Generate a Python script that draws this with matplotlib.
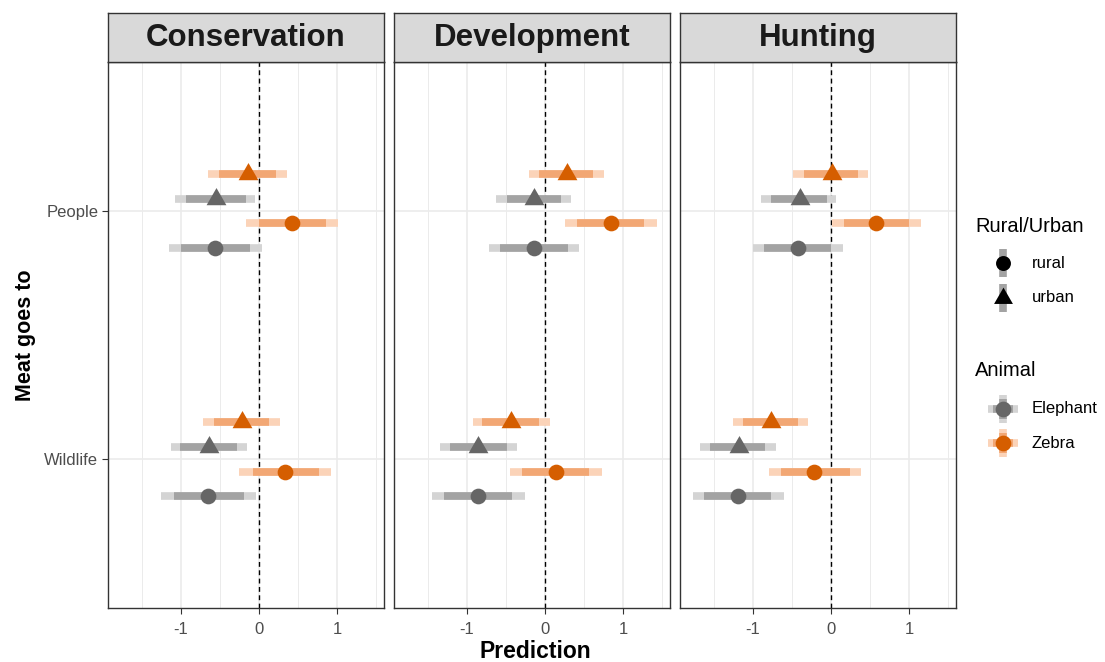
import matplotlib
matplotlib.use("Agg")
import matplotlib.pyplot as plt
from matplotlib.path import Path
import numpy as np

plt.rcParams['font.family'] = ['Liberation Sans', 'DejaVu Sans']

# ---------------- data ----------------
facets = ["Conservation", "Development", "Hunting"]
categories = ["Wildlife", "People"]          # y positions 1, 2
x_ticks = [-1, 0, 1]
x_tick_labels = ["-1", "0", "1"]

# series order inside each category (top to bottom)
series_animal = ["Zebra", "Elephant", "Zebra", "Elephant"]
series_area = ["urban", "urban", "rural", "rural"]
series_offset = [0.15, 0.05, -0.05, -0.15]

# values per facet: [People x4, Wildlife x4], series order as above
cons_point = [-0.14, -0.55, 0.42, -0.56, -0.22, -0.64, 0.34, -0.65]
cons_in_lo = [-0.51, -0.93, 0.00, -0.99, -0.58, -1.01, -0.08, -1.09]
cons_in_hi = [0.22, -0.17, 0.86, -0.11, 0.13, -0.28, 0.77, -0.19]
cons_out_lo = [-0.65, -1.07, -0.17, -1.15, -0.72, -1.13, -0.25, -1.25]
cons_out_hi = [0.36, -0.05, 1.01, 0.04, 0.27, -0.15, 0.92, -0.04]

dev_point = [0.28, -0.14, 0.84, -0.14, -0.43, -0.85, 0.14, -0.85]
dev_in_lo = [-0.08, -0.49, 0.41, -0.58, -0.80, -1.21, -0.29, -1.29]
dev_in_hi = [0.62, 0.21, 1.27, 0.29, -0.08, -0.48, 0.57, -0.42]
dev_out_lo = [-0.20, -0.63, 0.26, -0.72, -0.92, -1.34, -0.45, -1.44]
dev_out_hi = [0.75, 0.33, 1.44, 0.44, 0.06, -0.36, 0.73, -0.25]

hunt_point = [0.01, -0.40, 0.58, -0.42, -0.76, -1.18, -0.21, -1.19]
hunt_in_lo = [-0.34, -0.77, 0.17, -0.85, -1.12, -1.54, -0.64, -1.62]
hunt_in_hi = [0.35, -0.05, 1.00, 0.00, -0.42, -0.84, 0.24, -0.76]
hunt_out_lo = [-0.48, -0.89, 0.01, -1.00, -1.25, -1.67, -0.79, -1.77]
hunt_out_hi = [0.48, 0.07, 1.15, 0.16, -0.29, -0.70, 0.39, -0.60]

facet_data = [
    (cons_point, cons_in_lo, cons_in_hi, cons_out_lo, cons_out_hi),
    (dev_point, dev_in_lo, dev_in_hi, dev_out_lo, dev_out_hi),
    (hunt_point, hunt_in_lo, hunt_in_hi, hunt_out_lo, hunt_out_hi),
]

# ---------------- styles ----------------
point_col = {"Zebra": "#D55E00", "Elephant": "#666666"}
inner_col = {"Zebra": "#F2A774", "Elephant": "#A3A3A3"}
outer_col = {"Zebra": "#FBD3B8", "Elephant": "#D4D4D4"}

tri = Path([(0, 1), (-0.866, -0.5), (0.866, -0.5), (0, 1)],
           [Path.MOVETO, Path.LINETO, Path.LINETO, Path.CLOSEPOLY])
marker_of = {"rural": "o", "urban": tri}
msize_of = {"rural": 11.3, "urban": 16.5}

W, H = 1105, 662
fig = plt.figure(figsize=(W / 100, H / 100), dpi=100)

def frac(x0, y0, x1, y1):
    return [x0 / W, 1 - y1 / H, (x1 - x0) / W, (y1 - y0) / H]

panels_x = [(108, 384), (394, 670), (680, 956)]
ptop, pbot = 62, 608
stop = 13

spine_col = "#333333"
grid_col = "#EBEBEB"
text_grey = "#4D4D4D"

for i, (fname, dat) in enumerate(zip(facets, facet_data)):
    x0, x1 = panels_x[i]
    ax = fig.add_axes(frac(x0, ptop, x1, pbot))
    pt, ilo, ihi, olo, ohi = dat
    ax.set_xlim(-1.93, 1.60)
    ax.set_ylim(0.4, 2.6)
    # grid
    for gx in [-1.5, -0.5, 0.5, 1.5]:
        ax.axvline(gx, color=grid_col, lw=0.7, zorder=0)
    for gx in x_ticks:
        ax.axvline(gx, color=grid_col, lw=1.2, zorder=0)
    for gy in [1, 2]:
        ax.axhline(gy, color=grid_col, lw=1.2, zorder=0)
    ax.axvline(0, color="black", lw=1.0, ls=(0, (3.5, 2.5)), zorder=1)

    for ci, cat in enumerate(["People", "Wildlife"]):
        ybase = 2 if cat == "People" else 1
        for s in range(4):
            k = ci * 4 + s
            y = ybase + series_offset[s]
            an = series_animal[s]
            ar = series_area[s]
            ax.hlines(y, olo[k], ohi[k], color=outer_col[an], lw=5.5,
                      capstyle="butt", zorder=2)
            ax.hlines(y, ilo[k], ihi[k], color=inner_col[an], lw=5.5,
                      capstyle="butt", zorder=3)
            ax.plot([pt[k]], [y], marker=marker_of[ar], ms=msize_of[ar],
                    color=point_col[an], mec="none", ls="none", zorder=4)

    ax.set_xticks(x_ticks)
    ax.set_xticklabels(x_tick_labels)
    ax.set_yticks([1, 2])
    if i == 0:
        ax.set_yticklabels(categories)
    else:
        ax.set_yticklabels([])
    ax.tick_params(axis="both", colors=spine_col, labelcolor=text_grey,
                   labelsize=12, length=4, width=0.8, pad=3)
    ax.tick_params(axis="x", pad=6)
    if i != 0:
        ax.tick_params(axis="y", length=0)
    for sp in ax.spines.values():
        sp.set_color(spine_col)
        sp.set_linewidth(1.0)

    # strip
    sax = fig.add_axes(frac(x0, stop, x1, ptop))
    sax.set_facecolor("#D9D9D9")
    sax.set_xticks([])
    sax.set_yticks([])
    for sp in sax.spines.values():
        sp.set_color(spine_col)
        sp.set_linewidth(1.0)
    sax.text(0.5, 0.48, fname, ha="center", va="center", fontsize=22.5,
             fontweight="bold", color="#1A1A1A", transform=sax.transAxes)

fig.text(535 / W, 1 - 651 / H, "Prediction", ha="center", va="center",
         fontsize=16.5, fontweight="bold")
fig.text(25 / W, 1 - 335 / H, "Meat goes to", ha="center", va="center",
         rotation=90, fontsize=15.5, fontweight="bold")

# ---------------- legend ----------------
lax = fig.add_axes([0, 0, 1, 1], facecolor="none")
lax.set_xlim(0, W)
lax.set_ylim(H, 0)
lax.axis("off")

kx = 1003
lax.text(975, 226, "Rural/Urban", fontsize=14.5, va="center", ha="left")
lax.text(975, 370, "Animal", fontsize=14.5, va="center", ha="left")

for yk, ar, lab in [(263, "rural", "rural"), (298, "urban", "urban")]:
    lax.plot([kx, kx], [yk - 14, yk + 14], color="#A3A3A3", lw=5.5,
             solid_capstyle="butt", zorder=2)
    lax.plot([kx], [yk], marker=marker_of[ar], ms=msize_of[ar] * 0.95,
             color="black", mec="none", ls="none", zorder=3)
    lax.text(1032, yk, lab, fontsize=12, va="center", ha="left")

for yk, an in [(409, "Elephant"), (443, "Zebra")]:
    lax.plot([kx - 15, kx + 15], [yk, yk], color=outer_col[an], lw=5.5,
             solid_capstyle="butt", zorder=1)
    lax.plot([kx, kx], [yk - 14, yk + 14], color=outer_col[an], lw=5.5,
             solid_capstyle="butt", zorder=1)
    lax.plot([kx - 10, kx + 10], [yk, yk], color=inner_col[an], lw=5.5,
             solid_capstyle="butt", zorder=2)
    lax.plot([kx, kx], [yk - 10, yk + 10], color=inner_col[an], lw=5.5,
             solid_capstyle="butt", zorder=2)
    lax.plot([kx], [yk], marker="o", ms=11.3, color=point_col[an],
             mec="none", ls="none", zorder=3)
    lax.text(1032, yk, an, fontsize=12, va="center", ha="left")

fig.savefig("out.png", dpi=100)
